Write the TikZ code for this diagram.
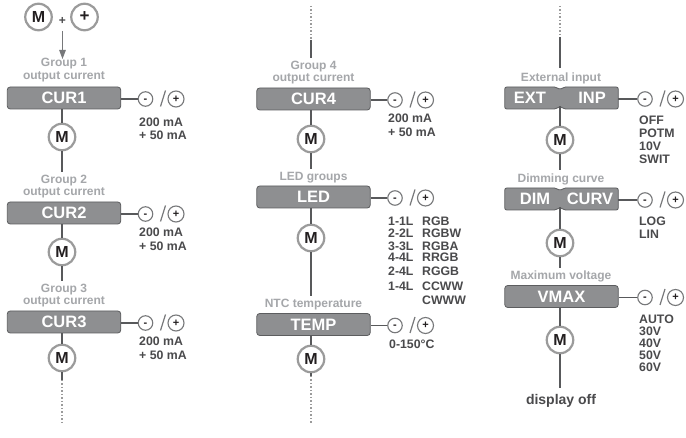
\documentclass[tikz,border=0pt]{standalone}
\usepackage{fontspec}
\setmainfont{Liberation Sans}
\usetikzlibrary{arrows.meta,calc}
\definecolor{boxfill}{HTML}{8E8F91}
\definecolor{boxdraw}{HTML}{5C5D5F}
\definecolor{circ}{HTML}{9B9B9B}
\definecolor{lblc}{HTML}{A5A7AA}
\definecolor{valc}{HTML}{4A4A4C}
\definecolor{lnc}{HTML}{58595B}
\definecolor{pm}{HTML}{77787A}
\definecolor{mtext}{HTML}{231F20}
\newcommand{\pmctrl}[4]{%
  \node[pmn] (#1m) at (#3,#4) {-};
  \node[pmn, minimum size=16pt] (#1p) at (#3+30.5,#4) {+};
  \draw[ln] (#2.east |- #1m.west) -- (#1m.west);
  \draw[slash] ($(#1m.center)+(15,7.5)$) -- ($(#1m.center)+(20,-8.5)$);
}
\newcommand{\notchbox}[4]{% name, cx, cy, notch x
  \node[minimum width=113.5pt, minimum height=22pt, inner sep=0pt] (#1) at (#2,#3) {};
  \draw[notchb] (#2-56.75,#3-11) -- (#4-3.5,#3-11) -- (#4,#3-8) -- (#4+3.5,#3-11)
    -- (#2+56.75,#3-11) -- (#2+56.75,#3+11) -- (#4+3.5,#3+11) -- (#4,#3+8)
    -- (#4-3.5,#3+11) -- (#2-56.75,#3+11) -- cycle;
}
\begin{document}
\begin{tikzpicture}[x=1pt,y=-1pt,
  boxn/.style={draw=boxdraw, fill=boxfill, line width=0.8pt, rounded corners=3pt,
    minimum width=113.5pt, minimum height=22pt, inner sep=0pt, text=white,
    font=\bfseries\fontsize{16.5}{18}\selectfont},
  notchb/.style={draw=boxdraw, fill=boxfill, line width=0.8pt, rounded corners=2pt},
  boxtxt/.style={inner sep=0pt, text=white, font=\bfseries\fontsize{16.5}{18}\selectfont},
  mnode/.style={circle, draw=circ, line width=2.2pt, fill=white, minimum size=26.5pt,
    inner sep=0pt, font=\bfseries\fontsize{16}{16}\selectfont, text=mtext},
  pmn/.style={circle, draw=pm, line width=1.1pt, fill=white, minimum size=14.5pt,
    inner sep=0pt, text height=0.66em, text depth=0pt,
    font=\bfseries\fontsize{11}{11}\selectfont, text=mtext},
  lbl/.style={anchor=base, text=lblc, font=\bfseries\fontsize{12}{13}\selectfont, inner sep=0pt},
  val/.style={anchor=base west, text=valc, font=\bfseries\fontsize{12.3}{13}\selectfont, inner sep=0pt},
  ln/.style={draw=lnc, line width=1.2pt},
  dotln/.style={draw=circ, line width=1.2pt, dash pattern=on 1.5pt off 2pt},
  slash/.style={draw=pm, line width=1.2pt},
]
\path[use as bounding box, fill=white] (0,0) rectangle (686,438);

% ---------------- Column 1 ----------------
\node[mnode] (mtop) at (38.5,17) {M};
\node[inner sep=0pt, text=valc, font=\bfseries\fontsize{12}{12}\selectfont] (plusop) at (62.5,21) {+};
\node[mnode, font=\bfseries\fontsize{17}{17}\selectfont] (ptop) at (84.5,17) {+};
\coordinate (a0) at (62.5,31);
\coordinate (a1) at (62.5,59);
\draw[ln, draw=pm, -{Triangle[length=9pt,width=6.5pt]}] (a0) -- (a1);

\node[lbl] (g1a) at (64,67) {Group 1};
\node[lbl] (g1b) at (64,80) {output current};
\node[boxn] (cur1) at (64,98) {CUR1};
\node[mnode] (m1) at (62,137) {M};
\draw[ln] (cur1.south -| m1.north) -- (m1.north);
\coordinate (e1) at (62,172);
\draw[ln] (m1.south) -- (e1);

\node[lbl] (g2a) at (64,184) {Group 2};
\node[lbl] (g2b) at (64,196) {output current};
\node[boxn] (cur2) at (64,213) {CUR2};
\node[mnode] (m2) at (62,252) {M};
\draw[ln] (cur2.south -| m2.north) -- (m2.north);
\coordinate (e2) at (62,281);
\draw[ln] (m2.south) -- (e2);

\node[lbl] (g3a) at (64,293) {Group 3};
\node[lbl] (g3b) at (64,305) {output current};
\node[boxn] (cur3) at (64,322) {CUR3};
\node[mnode] (m3) at (62,358) {M};
\draw[ln] (cur3.south -| m3.north) -- (m3.north);
\coordinate (e3) at (62,380);
\coordinate (e3d) at (62,424);
\draw[ln] (m3.south) -- (e3);
\draw[dotln] (e3) -- (e3d);

\pmctrl{c1}{cur1}{145.5}{99}
\pmctrl{c2}{cur2}{145.5}{214}
\pmctrl{c3}{cur3}{145.5}{323}
\node[val] (v1a) at (139,127) {200 mA};
\node[val] (v1b) at (139,140) {+ 50 mA};
\node[val] (v2a) at (139,237) {200 mA};
\node[val] (v2b) at (139,251) {+ 50 mA};
\node[val] (v3a) at (139,346) {200 mA};
\node[val] (v3b) at (139,360) {+ 50 mA};

% ---------------- Column 2 ----------------
\coordinate (t2a) at (311,6);
\coordinate (t2b) at (311,40);
\coordinate (t2c) at (311,58);
\draw[dotln] (t2a) -- (t2b);
\draw[ln] (t2b) -- (t2c);
\node[lbl] (g4a) at (313.5,70) {Group 4};
\node[lbl] (g4b) at (313.5,82) {output current};
\node[boxn] (cur4) at (313.5,99) {CUR4};
\node[mnode] (m4) at (311,139) {M};
\draw[ln] (cur4.south -| m4.north) -- (m4.north);
\coordinate (e4) at (311,169);
\draw[ln] (m4.south) -- (e4);

\node[lbl] (ledl) at (313.5,181) {LED groups};
\node[boxn] (led) at (313.5,197) {LED};
\node[mnode] (m5) at (311,238) {M};
\draw[ln] (led.south -| m5.north) -- (m5.north);
\coordinate (e5) at (311,296);
\draw[ln] (m5.south) -- (e5);

\node[lbl] (ntc) at (313.5,308) {NTC temperature};
\node[boxn] (temp) at (313.5,324.5) {TEMP};
\node[mnode] (m6) at (311,359) {M};
\draw[ln] (temp.south -| m6.north) -- (m6.north);
\coordinate (e6) at (311,376);
\coordinate (e6d) at (311,424);
\draw[ln] (m6.south) -- (e6);
\draw[dotln] (e6) -- (e6d);

\pmctrl{c4}{cur4}{395}{100}
\pmctrl{c5}{led}{395}{198}
\pmctrl{c6}{temp}{395}{325.5}
\node[val] (v4a) at (388,123) {200 mA};
\node[val] (v4b) at (388,137) {+ 50 mA};
\node[val] (l1) at (388,226) {1-1L};
\node[val] (l2) at (388,238) {2-2L};
\node[val] (l3) at (388,251) {3-3L};
\node[val] (l4) at (388,262) {4-4L};
\node[val] (l5) at (388,276) {2-4L};
\node[val] (l6) at (388,291) {1-4L};
\node[val] (r1) at (422,226) {RGB};
\node[val] (r2) at (422,238) {RGBW};
\node[val] (r3) at (422,251) {RGBA};
\node[val] (r4) at (422,262) {RRGB};
\node[val] (r5) at (422,276) {RGGB};
\node[val] (r6) at (422,291) {CCWW};
\node[val] (r7) at (422,305) {CWWW};
\node[val] (tv) at (389,349) {0-150°C};

% ---------------- Column 3 ----------------
\coordinate (t3a) at (560,6);
\coordinate (t3b) at (560,37);
\coordinate (t3c) at (560,68);
\draw[dotln] (t3a) -- (t3b);
\draw[ln] (t3b) -- (t3c);
\node[lbl] (extl) at (561,82) {External input};
\notchbox{extinp}{561.5}{98}{560}
\node[boxtxt] (ext1) at (530,98) {EXT};
\node[boxtxt] (ext2) at (592,98) {INP};
\node[mnode] (m7) at (560,140) {M};
\coordinate (n7) at (560,106);
\draw[ln] (n7) -- (m7.north);
\coordinate (e7) at (560,170);
\draw[ln] (m7.south) -- (e7);

\node[lbl] (diml) at (561,183) {Dimming curve};
\notchbox{dimcurv}{561.5}{199}{560}
\node[boxtxt] (dim1) at (535,199) {DIM};
\node[boxtxt] (dim2) at (590,199) {CURV};
\node[mnode] (m8) at (560,243) {M};
\coordinate (n8) at (560,207);
\draw[ln] (n8) -- (m8.north);
\coordinate (e8) at (560,268);
\draw[ln] (m8.south) -- (e8);

\node[lbl] (maxl) at (561,280) {Maximum voltage};
\node[boxn] (vmax) at (561.5,296.5) {VMAX};
\node[mnode] (m9) at (560,340) {M};
\draw[ln] (vmax.south -| m9.north) -- (m9.north);
\coordinate (e9) at (560,388);
\draw[ln] (m9.south) -- (e9);
\node[anchor=base, inner sep=0pt, text=valc, font=\bfseries\fontsize{14}{16}\selectfont] (doff) at (561,405) {display off};

\pmctrl{c7}{extinp}{645}{99}
\pmctrl{c8}{dimcurv}{645}{200}
\pmctrl{c9}{vmax}{645}{297.5}
\node[val] (o1) at (639,125) {OFF};
\node[val] (o2) at (639,138) {POTM};
\node[val] (o3) at (639,151) {10V};
\node[val] (o4) at (639,164) {SWIT};
\node[val] (d1) at (639,226) {LOG};
\node[val] (d2) at (639,239) {LIN};
\node[val] (x1) at (639,324) {AUTO};
\node[val] (x2) at (639,336) {30V};
\node[val] (x3) at (639,348) {40V};
\node[val] (x4) at (639,360) {50V};
\node[val] (x5) at (639,372) {60V};
\end{tikzpicture}
\end{document}
